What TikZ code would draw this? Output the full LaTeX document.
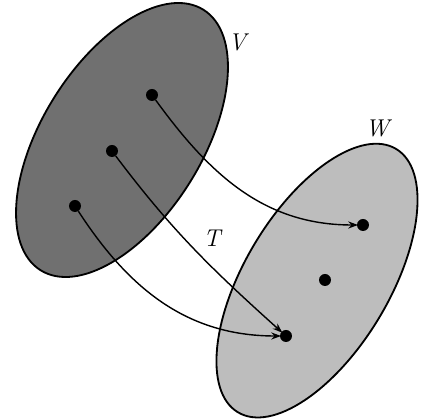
\documentclass[tikz,border=0pt]{standalone}
\usetikzlibrary{arrows.meta}

\begin{document}
\begin{tikzpicture}[
    dot/.style={circle, fill=black, inner sep=0pt, minimum size=0.3cm},
    maparrow/.style={line width=1pt, -{Stealth[length=7pt, width=5pt]}, shorten >=-1pt},
    setlabel/.style={font=\LARGE\itshape}
]
    % Frame of the picture
    \useasboundingbox (0,0) rectangle (10.525,10.475);

    % --- Domain V (dark) ---
    \draw[line width=1.3pt, fill=black!56]
        (3.05,6.975) ellipse [x radius=3.84cm, y radius=2.0cm, rotate=58];

    % --- Codomain W (light) ---
    \draw[line width=1.3pt, fill=black!26]
        (7.925,3.46) ellipse [x radius=3.84cm, y radius=1.81cm, rotate=59];

    % Points in V
    \node[dot] (v1) at (3.8,8.1) {};
    \node[dot] (v2) at (2.8,6.7) {};
    \node[dot] (v3) at (1.875,5.325) {};

    % Points in W
    \node[dot] (w1) at (9.075,4.85) {};
    \node[dot] (w2) at (8.125,3.475) {};
    \node[dot] (w3) at (7.15,2.075) {};

    % The map T
    \draw[maparrow] (v1) to[out=-54, in=180] (w1);
    \draw[maparrow] (v2) to[out=-53, in=138] (w3);
    \draw[maparrow] (v3) to[out=-57, in=180] (w3);

    % Labels
    \node[setlabel] (labV) at (5.93,9.425) {V};
    \node[setlabel] (labW) at (9.43,7.275) {W};
    \node[setlabel] (labT) at (5.3,4.525) {T};

\end{tikzpicture}
\end{document}
